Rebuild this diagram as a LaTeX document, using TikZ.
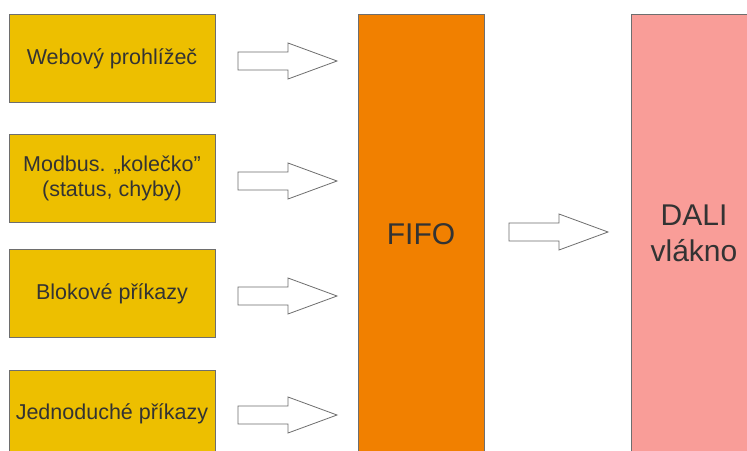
\documentclass[tikz,border=0pt]{standalone}
\usepackage{fontspec}
\setmainfont{Liberation Sans}
\definecolor{boxyellow}{HTML}{EDBF00}
\definecolor{fifoorange}{HTML}{F18000}
\definecolor{dalipink}{HTML}{F99D98}
\definecolor{edgegray}{HTML}{6E6E6E}
\definecolor{txtgray}{HTML}{333333}
\tikzset{
  srcbox/.style={draw=edgegray, line width=0.9pt, fill=boxyellow, minimum width=206pt, minimum height=88pt, inner sep=0pt, align=center, text=txtgray, font=\fontsize{21.5}{25}\selectfont},
  bigbox/.style={draw=edgegray, line width=0.9pt, minimum width=126pt, minimum height=440pt, inner sep=0pt, align=center, text=txtgray, font=\fontsize{30}{36}\selectfont},
  pics/blockarrow/.style={code={
    \draw[draw=edgegray, line width=0.8pt, fill=white, line join=miter]
      (0,-9) -- (50,-9) -- (50,-18) -- (99,0) -- (50,18) -- (50,9) -- (0,9) -- cycle;
  }}
}
\begin{document}
\begin{tikzpicture}[x=1pt, y=-1pt]
\useasboundingbox (0,0) rectangle (747,450);
\clip (0,0) rectangle (747,450);
\fill[white] (0,0) rectangle (747,450);
\node[srcbox] (web) at (112,58.5) {\raisebox{-2pt}{Webový prohlížeč}};
\node[srcbox] (modbus) at (112,178) {\raisebox{-2pt}{Modbus. „kolečko”}\\\raisebox{-2pt}{(status, chyby)}};
\node[srcbox] (blok) at (112,293.5) {Blokové příkazy};
\node[srcbox] (jedn) at (112,414) {Jednoduché příkazy};
\node[bigbox, fill=fifoorange] (fifo) at (421,234) {FIFO};
\node[bigbox, fill=dalipink] (dali) at (694,234) {\raisebox{2pt}{DALI}\\\raisebox{2pt}{vlákno}};
\pic at (238,61) {blockarrow};
\pic at (238,181) {blockarrow};
\pic at (238,296) {blockarrow};
\pic at (238,415) {blockarrow};
\pic at (509,232) {blockarrow};
\end{tikzpicture}
\end{document}
